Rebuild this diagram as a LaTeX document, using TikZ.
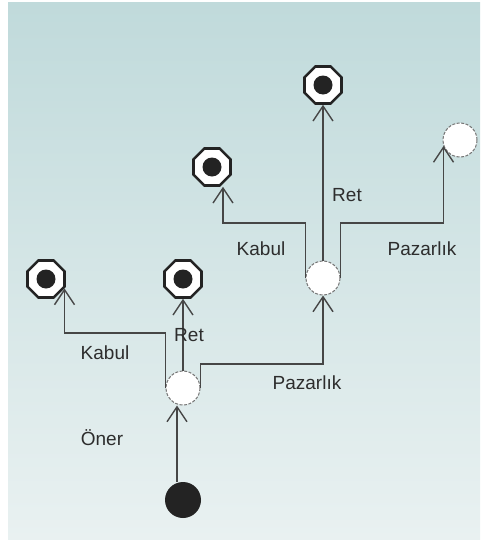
\documentclass[tikz,border=0pt]{standalone}
\usepackage{fontspec}
\setmainfont{Liberation Sans}
\usetikzlibrary{arrows.meta,shapes.geometric}
\definecolor{bgtop}{RGB}{192,218,219}
\definecolor{bgbot}{RGB}{233,241,241}
\definecolor{ln}{RGB}{70,70,70}
\definecolor{txt}{RGB}{45,45,45}
\definecolor{blk}{RGB}{35,35,35}
\tikzset{
  finalst/.style={regular polygon, regular polygon sides=8, minimum size=40pt, inner sep=0pt,
    draw=blk, line width=2.6pt, fill=white,
    path picture={\fill[blk] (path picture bounding box.center) circle (9.5pt);}},
  choicest/.style={circle, minimum size=34pt, inner sep=0pt, fill=white,
    draw=black!55, line width=1pt, dash pattern=on 3pt off 1.5pt},
  initst/.style={circle, minimum size=36pt, inner sep=0pt, fill=blk},
  arr/.style={-{Straight Barb[length=15pt,width=20pt]}, draw=ln, line width=1.4pt},
  lbl/.style={text=txt, font=\fontsize{19pt}{22pt}\selectfont, inner sep=0pt}
}
\begin{document}
\begin{tikzpicture}[x=1pt,y=-1pt]
\useasboundingbox (0,0) rectangle (480,541);
\fill[white] (0,0) rectangle (480,541);
\shade[top color=bgtop, bottom color=bgbot] (8,2) rectangle (480,539);

% nodes
\node[initst] (init) at (183,500) {};
\node[choicest] (oner) at (183,388) {};
\node[finalst] (lk) at (46,279) {};
\node[finalst] (mr) at (183,279) {};
\node[choicest] (up) at (323,278) {};
\node[finalst] (uk) at (212,167) {};
\node[finalst] (tr) at (323,85) {};
\node[choicest] (pz) at (460,140) {};

% connectors
\draw[arr] ([xshift=-6pt]init.north) -- ([xshift=-6pt]oner.south);
\draw[arr] (oner.west) -- (oner.west |- 0,333) -| (lk.-27);
\draw[arr] (oner.north) -- (mr.south);
\draw[arr] (oner.east) -- (oner.east |- 0,364) -| (up.south);
\draw[arr] (up.west) -- (up.west |- 0,223) -| ([xshift=11pt]uk.south);
\draw[arr] (up.north) -- (tr.south);
\draw[arr] (up.east) -- (up.east |- 0,223) -| (pz.200);

% labels
\node[lbl] (l1) at (102,438) {Öner};
\node[lbl] (l2) at (105,353) {Kabul};
\node[lbl] (l3) at (189,335) {Ret};
\node[lbl] (l4) at (307,383) {Pazarlık};
\node[lbl] (l5) at (261,249) {Kabul};
\node[lbl] (l6) at (347,195) {Ret};
\node[lbl] (l7) at (422,249) {Pazarlık};
\end{tikzpicture}
\end{document}
